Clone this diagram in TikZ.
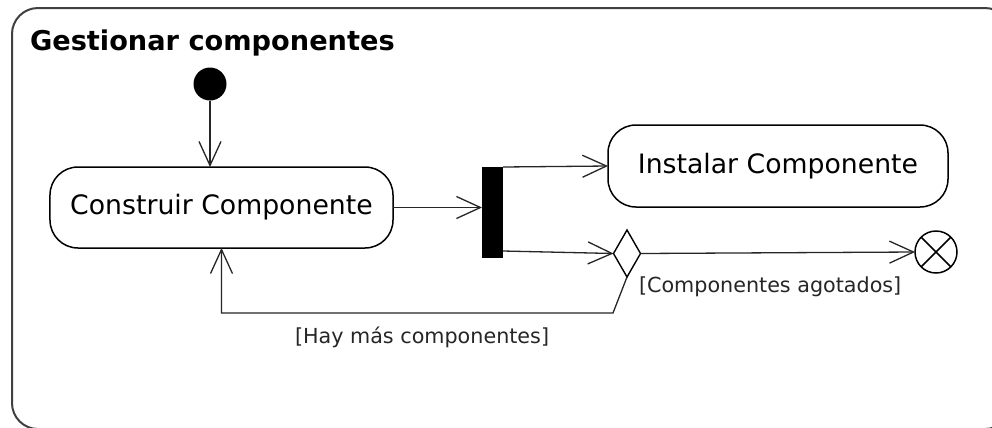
\documentclass[tikz,border=0pt]{standalone}
\usepackage{fontspec}
\setmainfont{DejaVu Sans}
\usetikzlibrary{arrows.meta,shapes.geometric}
\begin{document}
\begin{tikzpicture}[x=1bp,y=-1bp,
  every node/.style={inner sep=0pt, outer sep=0pt},
  act/.style={draw=black, line width=1.5bp, rounded corners=28bp, fill=white,
    font=\fontsize{26.7bp}{30bp}\selectfont},
  flow/.style={draw=black!85, line width=1.3bp,
    -{Straight Barb[length=24bp,width=22bp,line width=1.3bp]}},
  plain/.style={draw=black!85, line width=1.3bp},
  guard/.style={font=\fontsize{20.7bp}{24bp}\selectfont, anchor=base west, text=black!85},
]
\useasboundingbox (0,0) rectangle (992,427);
\clip (0,0) rectangle (992,427);
\fill[white] (0,0) rectangle (992,427);
% frame
\draw[draw=black!75, line width=2bp, rounded corners=26bp] (12,8) rectangle (1011,429);
\node[anchor=base west, font=\fontsize{27.2bp}{32bp}\selectfont\bfseries] (title) at (30,50) {Gestionar componentes};
% nodes
\node[circle, fill=black, minimum size=33bp] (init) at (210,84) {};
\node[act, minimum width=343bp, minimum height=81bp] (cons) at (221.5,207.5) {Construir Componente};
\node[act, minimum width=340bp, minimum height=82bp] (inst) at (778,166) {Instalar Componente};
\node[fill=black, minimum width=21bp, minimum height=91bp] (bar) at (492.5,212.5) {};
\node[diamond, draw=black, line width=1.4bp, fill=white, minimum width=27bp, minimum height=47bp] (dia) at (627,253.5) {};
\node[circle, draw=black, line width=1.5bp, fill=white, minimum size=42bp] (fin) at (936,252) {};
\draw[line width=1.5bp] (fin.north west) -- (fin.south east) (fin.north east) -- (fin.south west);
\coordinate (lp) at (613,313);
% connectors
\draw[flow] (init.south) -- (init.south |- cons.north);
\draw[flow] (cons.east) -- (cons.east -| bar.west);
\draw[flow] (bar.north east) -- (inst.west);
\draw[flow] ([yshift=7bp]bar.south east) -- (dia.west);
\draw[flow] (dia.east) -- (fin.west);
\draw[flow] (dia.south) -- (lp) -- (lp -| cons.south) -- (cons.south);
% guards
\node[guard] (g1) at (639,292) {[Componentes agotados]};
\node[guard] (g2) at (295,343) {[Hay más componentes]};
\end{tikzpicture}
\end{document}
